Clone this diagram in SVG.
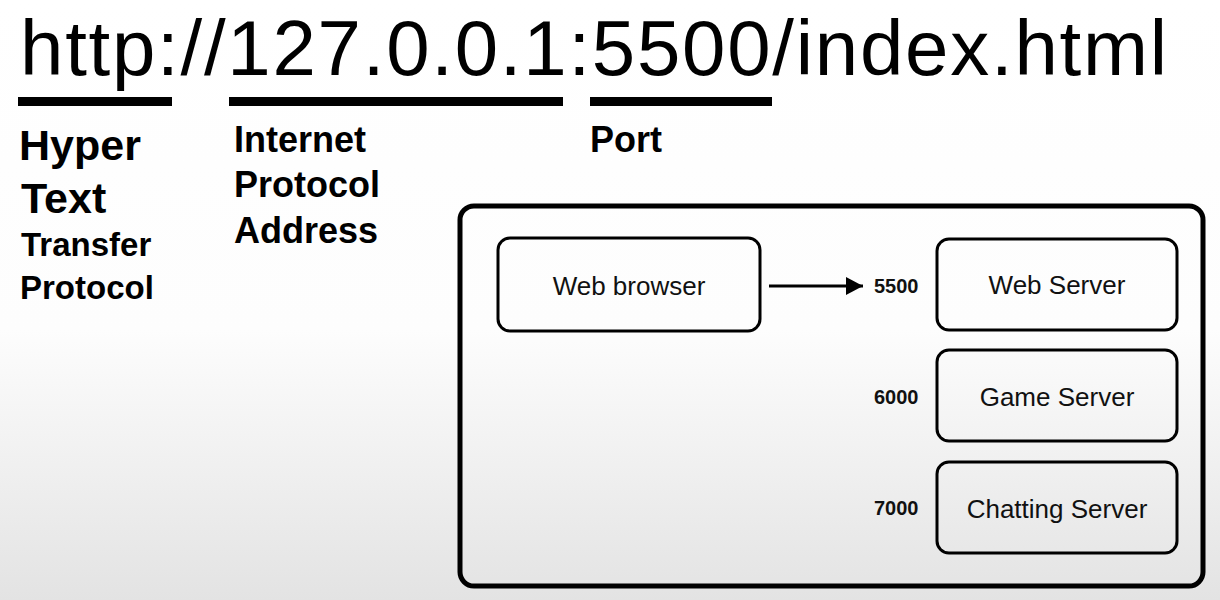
<svg xmlns="http://www.w3.org/2000/svg" width="1220" height="600" viewBox="0 0 1220 600">
  <defs>
    <linearGradient id="bg" x1="0" y1="0" x2="0" y2="1">
      <stop offset="0" stop-color="#ffffff"/>
      <stop offset="0.55" stop-color="#fdfdfd"/>
      <stop offset="1" stop-color="#e3e3e3"/>
    </linearGradient>
    <marker id="arrow" markerWidth="18" markerHeight="18" viewBox="0 0 18 18" refX="17" refY="9" markerUnits="userSpaceOnUse" orient="auto">
      <path d="M0,0 L17,9 L0,18 Z" fill="#000"/>
    </marker>
    <style>
      .url { font-family: "Liberation Sans", Arial, sans-serif; font-size: 78px; fill: #000; }
      .bar { fill: #000; }
      .big { font-family: "Liberation Sans", Arial, sans-serif; font-weight: bold; font-size: 43px; fill: #000; }
      .mid { font-family: "Liberation Sans", Arial, sans-serif; font-weight: bold; font-size: 33px; fill: #000; }
      .col2 { font-family: "Liberation Sans", Arial, sans-serif; font-weight: bold; font-size: 36px; fill: #000; }
      .box { fill: none; stroke: #000; stroke-width: 3; }
      .outer { fill: none; stroke: #000; stroke-width: 5; }
      .lbl { font-family: "Liberation Sans", Arial, sans-serif; font-size: 26px; fill: #111; text-anchor: middle; }
      .port { font-family: "Liberation Sans", Arial, sans-serif; font-weight: bold; font-size: 20px; fill: #111; }
      .conn { stroke: #000; stroke-width: 3; fill: none; }
    </style>
  </defs>
  <rect x="0" y="0" width="1220" height="600" fill="url(#bg)"/>

  <g id="url">
    <text class="url" x="20" y="75" textLength="1147" lengthAdjust="spacing">http://127.0.0.1:5500/index.html</text>
    <rect class="bar" x="18" y="97" width="154" height="9"/>
    <rect class="bar" x="229" y="97" width="334" height="9"/>
    <rect class="bar" x="590" y="97" width="182" height="9"/>
  </g>

  <g id="http-label">
    <text class="big" x="19" y="160">Hyper</text>
    <text class="big" x="21" y="213">Text</text>
    <text class="mid" x="21" y="256">Transfer</text>
    <text class="mid" x="20" y="299">Protocol</text>
  </g>

  <g id="ip-label">
    <text class="col2" x="234" y="152">Internet</text>
    <text class="col2" x="234" y="197">Protocol</text>
    <text class="col2" x="234" y="243">Address</text>
  </g>

  <g id="port-label">
    <text class="col2" x="590" y="152">Port</text>
  </g>

  <g id="machine">
    <rect class="outer" x="460" y="206" width="743" height="380" rx="14" ry="14"/>
  </g>

  <g id="web-browser">
    <rect class="box" x="498" y="238" width="262" height="93" rx="12" ry="12"/>
    <text class="lbl" x="629" y="295">Web browser</text>
  </g>

  <g id="web-server">
    <rect class="box" x="937" y="239" width="240" height="91" rx="12" ry="12"/>
    <text class="lbl" x="1057" y="294">Web Server</text>
    <text class="port" x="874" y="293">5500</text>
  </g>

  <g id="game-server">
    <rect class="box" x="937" y="350" width="240" height="91" rx="12" ry="12"/>
    <text class="lbl" x="1057" y="406">Game Server</text>
    <text class="port" x="874" y="404">6000</text>
  </g>

  <g id="chatting-server">
    <rect class="box" x="937" y="462" width="240" height="91" rx="12" ry="12"/>
    <text class="lbl" x="1057" y="518">Chatting Server</text>
    <text class="port" x="874" y="515">7000</text>
  </g>

  <g id="connectors">
    <line class="conn" x1="769" y1="286" x2="863" y2="286" marker-end="url(#arrow)"/>
  </g>
</svg>
